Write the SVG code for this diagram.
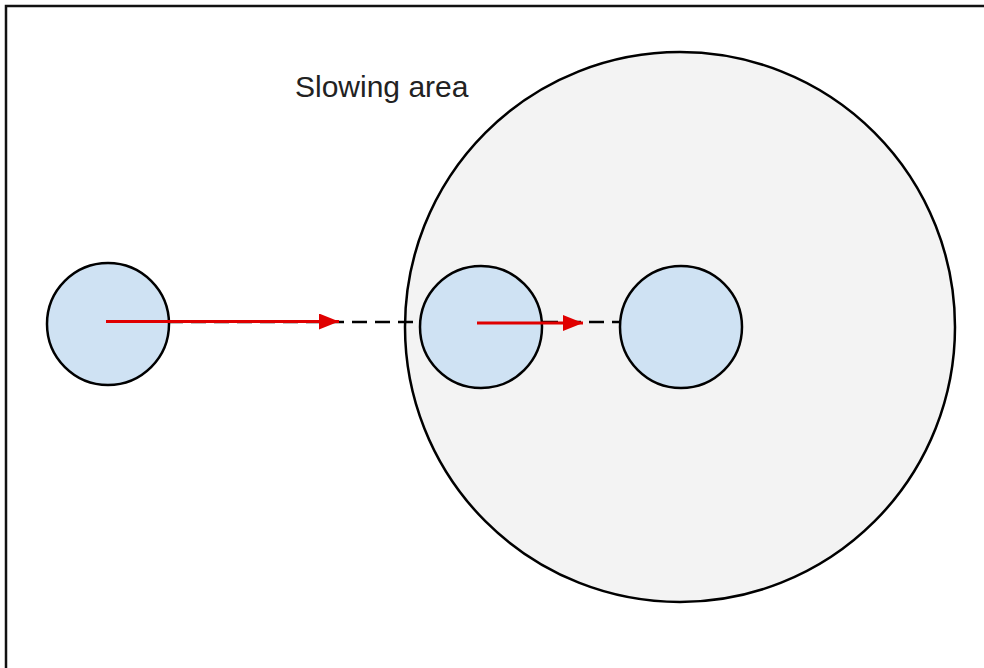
<svg xmlns="http://www.w3.org/2000/svg" width="984" height="668" viewBox="0 0 984 668">
<style>
.ball{fill:#cfe2f3;stroke:#000;stroke-width:2.5}
.dash{stroke:#000;stroke-width:2.5;stroke-dasharray:15 8;fill:none}
.vel{stroke:#e00000;stroke-width:3;fill:none}
.lbl{font-family:"Liberation Sans",Arial,sans-serif;font-size:30px;fill:#222}
</style>
<defs>
<marker id="ah" viewBox="0 0 20 16" refX="20" refY="8" markerWidth="20" markerHeight="16" orient="auto" markerUnits="userSpaceOnUse">
<path d="M0,0 L20,8 L0,16 Z" fill="#e00000"/>
</marker>
</defs>
<rect width="984" height="668" fill="#fff"/>
<path d="M6,668 L6,6 L984,6" fill="none" stroke="#111" stroke-width="2.5"/>
<g id="slowing-area">
<circle cx="680" cy="327" r="275" fill="#f3f3f3" stroke="#000" stroke-width="2.5"/>
<text class="lbl" x="295" y="97">Slowing area</text>
</g>
<g id="connectors">
<line class="dash" x1="168" y1="322" x2="419" y2="322"/>
<line class="dash" x1="543" y1="322" x2="620" y2="322"/>
</g>
<g id="ball-1"><circle class="ball" cx="108" cy="324" r="61"/></g>
<g id="ball-2"><circle class="ball" cx="481" cy="327" r="61"/></g>
<g id="ball-3"><circle class="ball" cx="681" cy="327" r="61"/></g>
<g id="velocities">
<line class="vel" x1="106" y1="321.5" x2="339" y2="321.5" marker-end="url(#ah)"/>
<line class="vel" x1="477" y1="323" x2="583" y2="323" marker-end="url(#ah)"/>
</g>
</svg>
